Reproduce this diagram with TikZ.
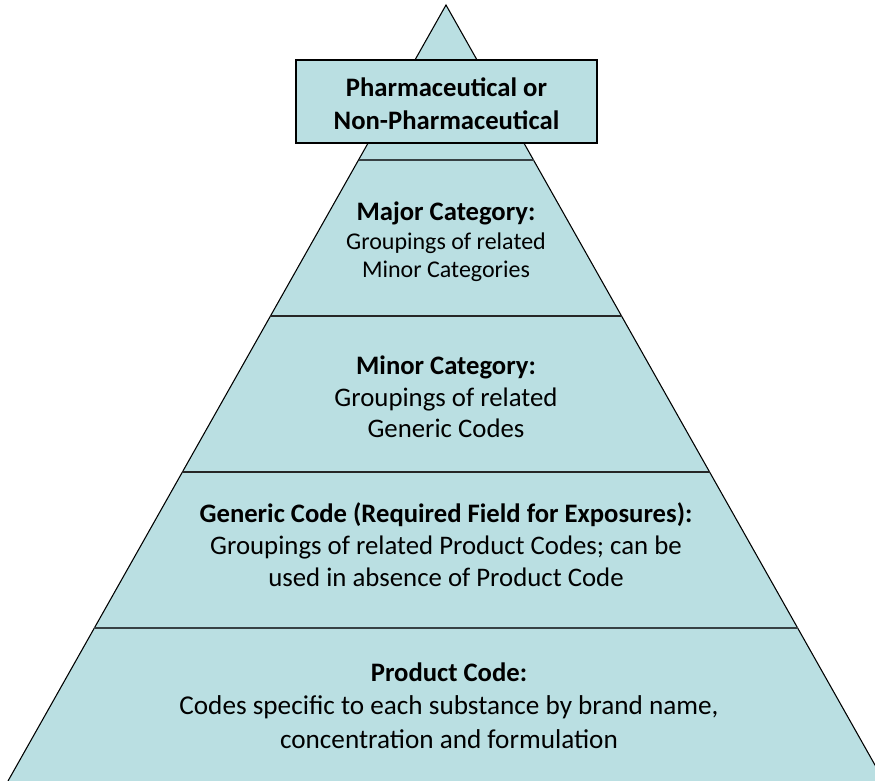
\documentclass[tikz,border=0pt]{standalone}
\usepackage{fontspec}
\setmainfont{Carlito}
\definecolor{pyr}{RGB}{186,223,226}
\definecolor{sep}{RGB}{55,65,68}
\newcommand{\hd}[1]{{\fontsize{20}{24}\selectfont\bfseries #1}}
\begin{document}
\begin{tikzpicture}[x=0.75pt,y=-0.75pt,
  lbl/.style={align=center,inner sep=0pt,text=black},
  sepline/.style={draw=sep,line width=1.6pt}]
\useasboundingbox (0,0) rectangle (875,781);
\clip (0,0) rectangle (875,781);
\coordinate (apex) at (446,5);
\coordinate (bl) at (8,781);
\coordinate (br) at (884,781);
\fill[pyr] (apex) -- (br) -- (bl) -- cycle;
\draw[black,line width=0.8pt] (bl) -- (apex) -- (br);
% separators
\foreach \yy/\nm in {160/a,316/b,472/c,628/d}{
  \pgfmathsetmacro{\hw}{(\yy-5)*0.5645}
  \coordinate (\nm l) at ({446-\hw},\yy);
  \coordinate (\nm r) at ({446+\hw},\yy);
}
\draw[sepline] (al) -- (ar);
\draw[sepline,draw=black!85] (bl) -- (br);
\draw[sepline,draw=black!85] (cl) -- (cr);
\draw[sepline] (dl) -- (dr);
% top box
\node[draw=black,line width=1.5pt,fill=pyr,minimum width=301*0.75pt,minimum height=83*0.75pt,inner sep=0pt] (top) at (446.5,101.5) {};
\node[lbl,font=\fontsize{20}{25}\selectfont\bfseries] (toptext) at (446.5,104)
  {Pharmaceutical or\\ Non-Pharmaceutical};
\node[lbl,font=\fontsize{18}{21.5}\selectfont] (major) at (446,242)
  {\hd{Major Category:}\\ Groupings of related\\ Minor Categories};
\node[lbl,font=\fontsize{20.1}{23.5}\selectfont] (minor) at (446,397)
  {\hd{Minor Category:}\\ Groupings of related\\ Generic Codes};
\node[lbl,font=\fontsize{20.1}{24}\selectfont] (generic) at (446,545)
  {\hd{Generic Code (Required Field for Exposures):}\\ Groupings of related Product Codes; can be\\ used in absence of Product Code};
\node[lbl,font=\fontsize{20.4}{25}\selectfont] (product) at (449,705.5)
  {\hd{Product Code:}\\ Codes specific to each substance by brand name,\\ concentration and formulation};
\end{tikzpicture}
\end{document}
